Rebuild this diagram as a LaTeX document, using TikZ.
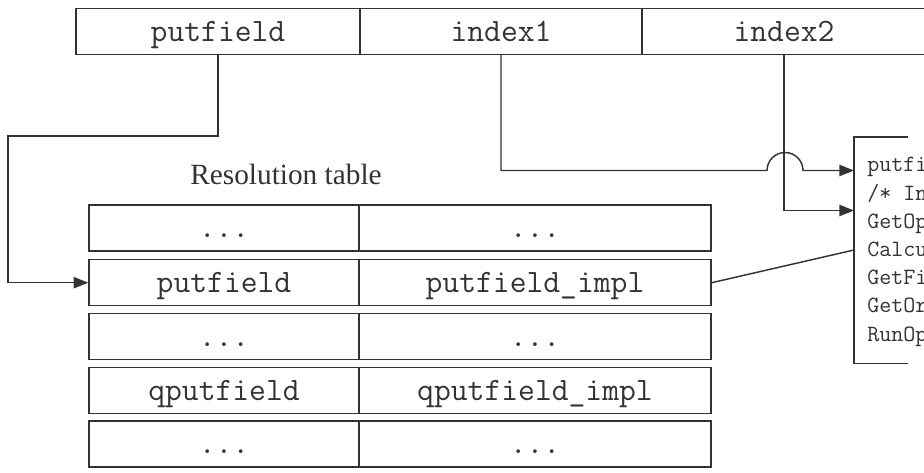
\documentclass[tikz,border=0pt]{standalone}
\usepackage{fontspec}
\setmainfont{Liberation Serif}
\usetikzlibrary{arrows.meta}
\definecolor{ink}{HTML}{333333}
\begin{document}
\begin{tikzpicture}[x=0.75pt,y=-0.75pt,
  cell/.style={draw=ink, line width=1.1pt, minimum height=34.5pt, inner sep=0pt,
    text height=16pt, text depth=1pt, text=ink,
    font=\fontsize{24.5}{26}\selectfont\ttfamily},
  conn/.style={draw=ink, line width=1.1pt},
  tip/.style={-{Triangle[length=11pt,width=8.5pt]}},
  codeline/.style={anchor=base west, inner sep=0pt, text=ink,
    font=\fontsize{17.5}{20}\selectfont\ttfamily}
]
\useasboundingbox (0,0) rectangle (924,473);
\clip (0,0) rectangle (924,473);

% top instruction row
\node[cell, minimum width=213pt] (op) at (218,31.3) {putfield};
\node[cell, minimum width=211.5pt] (i1) at (501,31.3) {index1};
\node[cell, minimum width=213pt] (i2) at (784,31.3) {index2};

% resolution table
\node[text=ink, font=\fontsize{22}{24}\selectfont, inner sep=0pt] (title) at (286,174) {Resolution table};
\foreach \r/\y/\a/\b in {1/228/{...}/{...},2/282.7/putfield/putfield\_impl,3/336.5/{...}/{...},4/390.5/qputfield/qputfield\_impl,5/444/{...}/{...}}{
  \node[cell, minimum width=202.5pt] (l\r) at (224,\y) {\a};
  \node[cell, minimum width=264pt] (r\r) at (535,\y) {\b};
}

% code box (right side, cut off)
\node[inner sep=0pt, minimum width=120pt, minimum height=169.5pt, anchor=north west] (code) at (854,137) {};
\draw[conn] ([xshift=40.5pt]code.north west) -- (code.north west) -- (code.south west) -- ([xshift=40.5pt]code.south west);
\foreach \t [count=\k from 0] in {putfield\_impl(index1{,} index2),/* Interpret operands */,GetOperands(),CalculateIndex(),GetFieldRef(),GetOriginRef(),RunOperation()}{
  \node[codeline] (c\k) at (867,{172+28.2*\k}) {\t};
}

% connectors
\coordinate (a1) at (code.west |- 0,170.5);
\coordinate (a2) at (code.west |- 0,210.5);
\coordinate (a3) at (code.west |- 0,250);
\draw[conn, tip] (op.south) -- (218,136) -- (8,136) |- (l2.west);
\draw[conn, tip] (i1.south) |- (767,170.5) arc[start angle=180, end angle=0, radius=13.5pt] -- (a1);
\draw[conn, tip] (i2.south) |- (a2);
\draw[conn] (r2.east) -- (a3);
\end{tikzpicture}
\end{document}
